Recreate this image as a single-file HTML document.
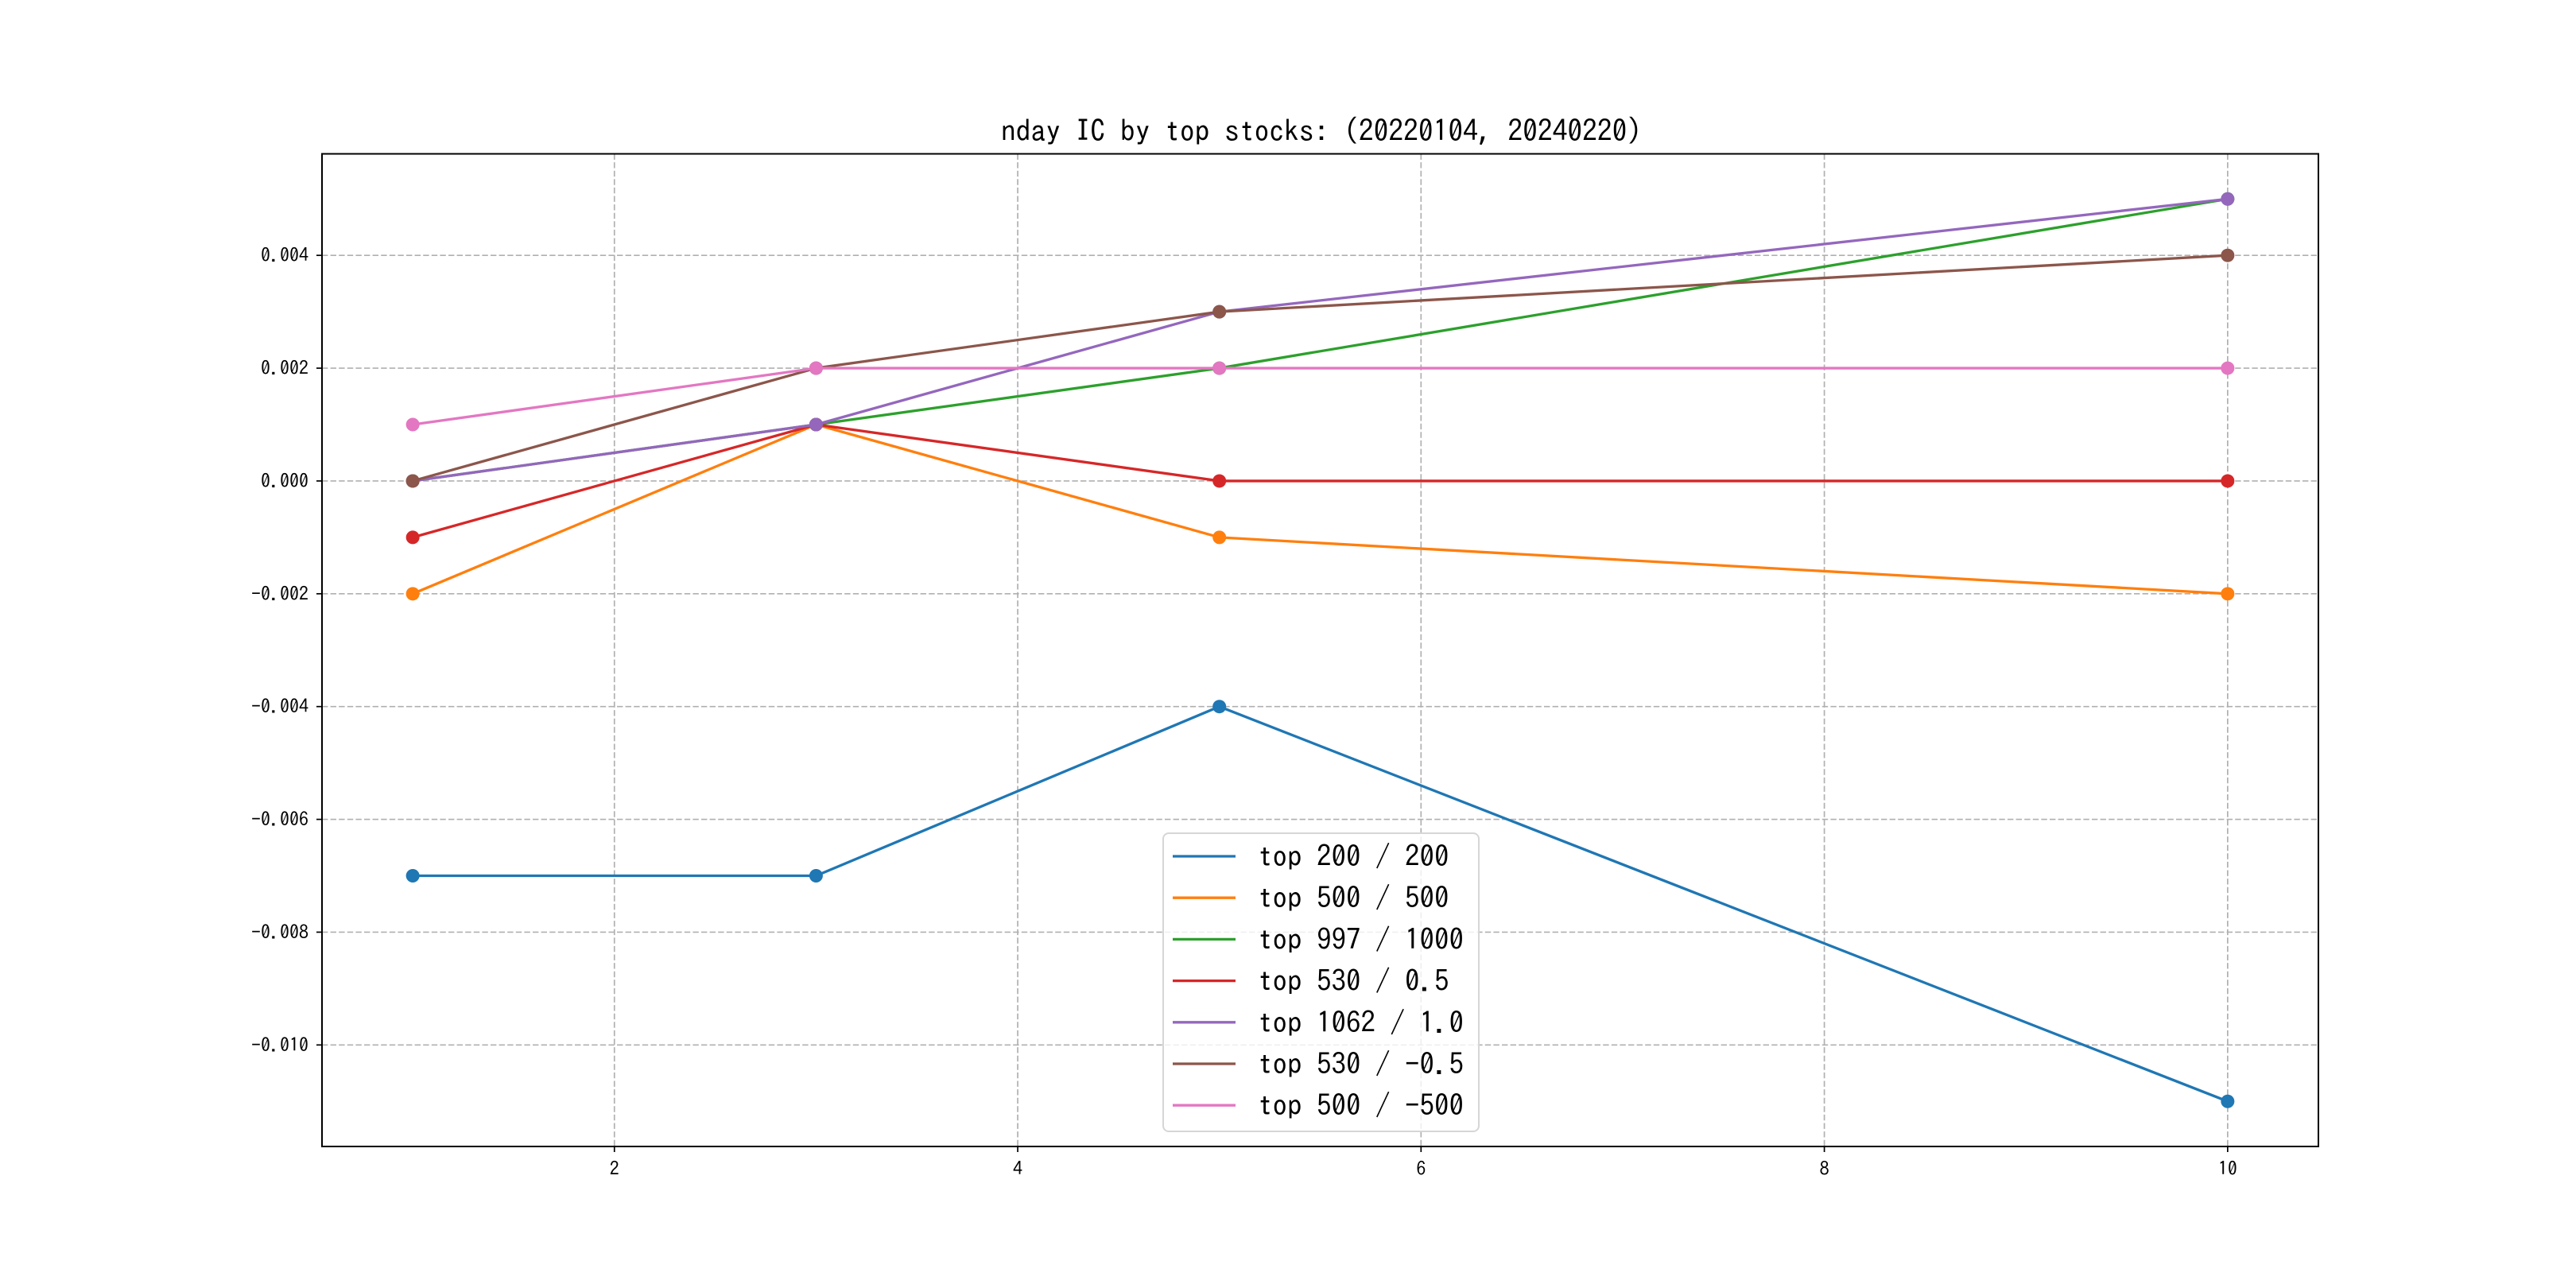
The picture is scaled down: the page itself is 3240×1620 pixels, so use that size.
<!DOCTYPE html>
<html><head><meta charset="utf-8"><style>
html,body{margin:0;padding:0;background:#fff;}
svg{display:block;}
text{font-family:"IPAGothic","WenQuanYi Zen Hei",monospace;}
</style></head><body>
<svg id="chart" width="3240" height="1620" viewBox="0 0 3240 1620" xmlns="http://www.w3.org/2000/svg">
<rect width="3240" height="1620" fill="#fff"/>
<text x="1662" y="178" font-size="37.5" text-anchor="middle" fill="#000">nday IC by top stocks: (20220104, 20240220)</text>
<g id="grid"></g><g id="series"></g><g id="axes"></g><g id="legend"></g>
</svg>
<script>
const xValues = [1, 3, 5, 10];
const seriesNames = ["top 200 / 200","top 500 / 500","top 997 / 1000","top 530 / 0.5","top 1062 / 1.0","top 530 / -0.5","top 500 / -500"];
const s1 = [-0.007, -0.007, -0.004, -0.011];
const s2 = [-0.002, 0.001, -0.001, -0.002];
const s3 = [0, 0.001, 0.002, 0.005];
const s4 = [-0.001, 0.001, 0, 0];
const s5 = [0, 0.001, 0.003, 0.005];
const s6 = [0, 0.002, 0.003, 0.004];
const s7 = [0.001, 0.002, 0.002, 0.002];
const xTicks = [2, 4, 6, 8, 10];
const yTicks = [-0.010, -0.008, -0.006, -0.004, -0.002, 0.000, 0.002, 0.004];
const yTickLabels = ["-0.010","-0.008","-0.006","-0.004","-0.002","0.000","0.002","0.004"];

const colors = ["#1f77b4","#ff7f0e","#2ca02c","#d62728","#9467bd","#8c564b","#e377c2"];
const allSeries = [s1,s2,s3,s4,s5,s6,s7];
const NS = "http://www.w3.org/2000/svg";
const L = 405, R = 2916, T = 193.5, B = 1442;
const allX = xValues, allY = allSeries.flat();
const xmin = Math.min(...allX), xmax = Math.max(...allX);
const ymin = Math.min(...allY), ymax = Math.max(...allY);
const xm = (xmax - xmin) * 0.05, ym = (ymax - ymin) * 0.05;
const X = v => L + (v - (xmin - xm)) / ((xmax + xm) - (xmin - xm)) * (R - L);
const Y = v => B - (v - (ymin - ym)) / ((ymax + ym) - (ymin - ym)) * (B - T);
function mk(tag, attrs, parent) {
  const e = document.createElementNS(NS, tag);
  for (const k in attrs) e.setAttribute(k, attrs[k]);
  parent.appendChild(e);
  return e;
}
const grid = document.getElementById('grid'), axes = document.getElementById('axes'),
      ser = document.getElementById('series'), leg = document.getElementById('legend');
xTicks.forEach(t => {
  const g = mk('line', {x1: X(t), x2: X(t), y1: T, y2: B, stroke: '#b0b0b0', 'stroke-width': 1.7, 'stroke-dasharray': '7.4,3.2'}, grid);
  
  
  const tk = mk('line', {x1: X(t), x2: X(t), y1: B, y2: B + 7, stroke: '#000', 'stroke-width': 1.7}, axes);
  
  
  const lb = mk('text', {x: X(t), y: B + 36, 'font-size': 24, 'text-anchor': 'middle', fill: '#000'}, axes);
  lb.textContent = String(t);
  
  
});
yTicks.forEach((t, i) => {
  const g = mk('line', {x1: L, x2: R, y1: Y(t), y2: Y(t), stroke: '#b0b0b0', 'stroke-width': 1.7, 'stroke-dasharray': '7.4,3.2'}, grid);
  
  
  const tk = mk('line', {x1: L - 7, x2: L, y1: Y(t), y2: Y(t), stroke: '#000', 'stroke-width': 1.7}, axes);
  
  
  const lb = mk('text', {x: L - 17, y: Y(t) + 8, 'font-size': 24, 'text-anchor': 'end', fill: '#000'}, axes);
  lb.textContent = yTickLabels[i];
  
  
});
const frame = mk('rect', {x: L, y: T, width: R - L, height: B - T, fill: 'none', stroke: '#000', 'stroke-width': 2}, axes);


allSeries.forEach((s, i) => {
  const g = mk('g', {}, ser);
  
  
  const pts = s.map((v, j) => X(xValues[j]) + ',' + Y(v)).join(' ');
  mk('polyline', {points: pts, fill: 'none', stroke: colors[i], 'stroke-width': 3.3, 'stroke-linejoin': 'round'}, g);
  s.forEach((v, j) => {
    const c = mk('circle', {cx: X(xValues[j]), cy: Y(v), r: 8.5, fill: colors[i]}, g);
    
    
  });
});
const lbox = mk('rect', {x: 1463, y: 1048, width: 397, height: 375, rx: 7, fill: 'rgba(255,255,255,0.8)', stroke: '#d6d6d6', 'stroke-width': 2}, leg);


seriesNames.forEach((n, i) => {
  const y = 1077 + i * 52.2;
  const g = mk('g', {}, leg);
  
  
  mk('line', {x1: 1475, x2: 1554, y1: y, y2: y, stroke: colors[i], 'stroke-width': 3.3}, g);
  const t = mk('text', {x: 1582, y: y + 13, 'font-size': 37, fill: '#000'}, g);
  t.textContent = n;
});
</script>
</body></html>
